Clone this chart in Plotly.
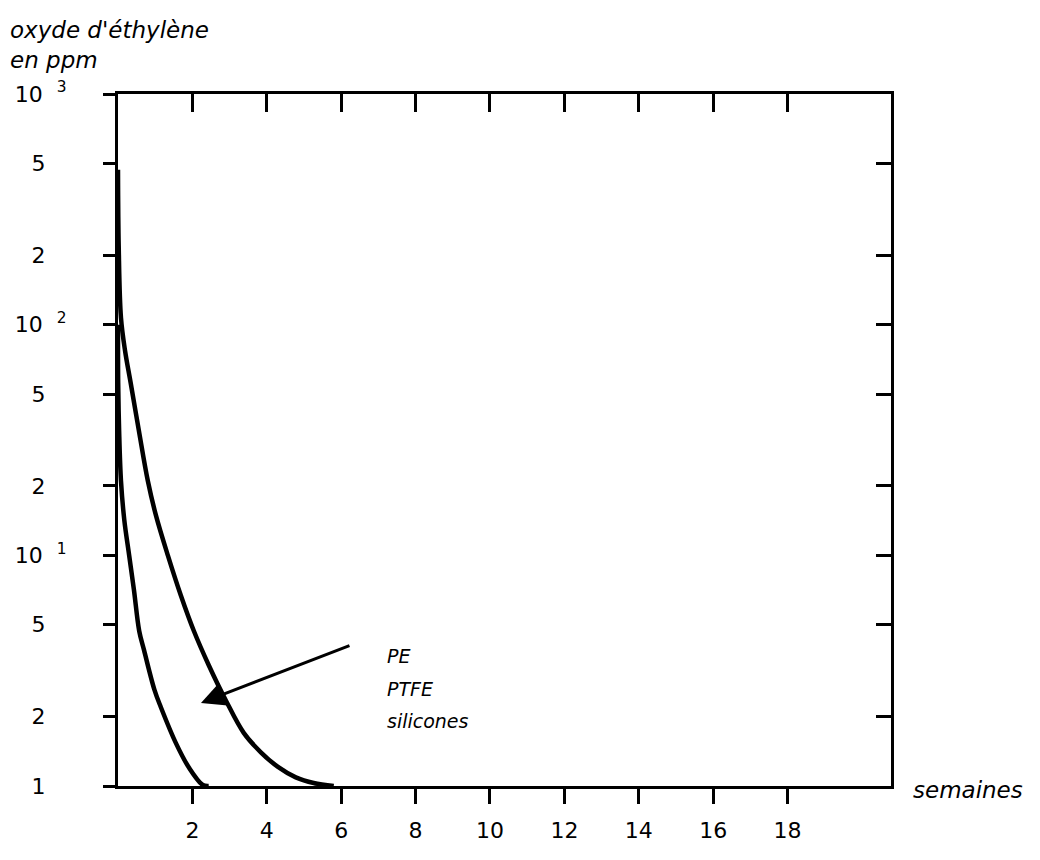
import plotly.graph_objects as go

# ---- data ----
weeks_outer = [0.0, 0.02, 0.08, 0.19, 0.34, 0.56, 0.80, 1.02, 1.34, 1.69, 2.04, 2.44,
               2.90, 3.38, 3.84, 4.30, 4.78, 5.26, 5.80]
ppm_outer = [469, 215, 107, 77, 56, 34.8, 21.1, 14.9, 10, 6.7, 4.7, 3.34,
             2.35, 1.70, 1.40, 1.21, 1.09, 1.03, 1.0]

weeks_inner = [0.0, 0.005, 0.03, 0.08, 0.17, 0.30, 0.43, 0.57, 0.70, 0.98, 1.15, 1.56, 1.91, 2.28, 2.44]
ppm_inner = [100, 56, 34.8, 21, 14.2, 10, 7.05, 4.7, 3.88, 2.61, 2.2, 1.53, 1.2, 1.01, 1.0]

x_ticks = [2, 4, 6, 8, 10, 12, 14, 16, 18]
x_ticktext = ["2", "4", "6", "8", "10", "12", "14", "16", "18"]
y_ticks = [1, 2, 5, 10, 20, 50, 100, 200, 500, 1000]
PAD = "\u00a0\u00a0\u00a0"
y_ticktext = ["1" + PAD, "2" + PAD, "5" + PAD, "10\u00a0\u00a0<sup>1</sup>",
              "2" + PAD, "5" + PAD, "10\u00a0\u00a0<sup>2</sup>",
              "2" + PAD, "5" + PAD, "10\u00a0\u00a0<sup>3</sup>"]
y_ticks_right = [2, 5, 10, 20, 50, 100, 200, 500]

label_lines = ["PE", "PTFE", "silicones"]

FONT = "DejaVu Sans"
font_it = dict(family=FONT, size=23, color="black", style="italic", weight=200)
font_tick = dict(family=FONT, size=22, color="black")

L, R, T, B = 110, 157, 86, 82
PW, PH = 1040 - L - R, 860 - T - B

fig = go.Figure()
for xs, ys in ((weeks_outer, ppm_outer), (weeks_inner, ppm_inner)):
    fig.add_trace(go.Scatter(x=xs, y=ys, mode="lines",
                             line=dict(color="black", width=4.5, shape="spline", smoothing=1.0),
                             showlegend=False, hoverinfo="skip"))
# invisible trace to anchor the mirror axes
fig.add_trace(go.Scatter(x=[1], y=[1], xaxis="x2", yaxis="y2", mode="markers",
                         marker=dict(opacity=0), showlegend=False, hoverinfo="skip"))

xr = [0, 20.78]
yr = [0, 3]

common = dict(showgrid=False, zeroline=False, showline=True, linecolor="black",
              linewidth=3, tickwidth=3, tickcolor="black", automargin=False)

fig.update_layout(
    width=1040, height=860,
    margin=dict(l=L, r=R, t=T, b=B, autoexpand=False),
    paper_bgcolor="white", plot_bgcolor="white",
    xaxis=dict(range=xr, ticks="outside", ticklen=15,
               tickvals=x_ticks, ticktext=x_ticktext, ticklabelstandoff=8,
               tickfont=font_tick, **common),
    xaxis2=dict(range=xr, overlaying="x", side="top", ticks="inside", ticklen=18,
                tickvals=x_ticks, showticklabels=False, **common),
    yaxis=dict(type="log", range=yr, ticks="outside", ticklen=12,
               tickvals=y_ticks, ticktext=y_ticktext,
               ticklabelstandoff=32, tickfont=font_tick, **common),
    yaxis2=dict(type="log", range=yr, overlaying="y", side="right",
                ticks="inside", ticklen=15,
                tickvals=y_ticks_right, showticklabels=False, **common),
)

# axis titles as free text
fig.add_annotation(text="oxyde d'éthylène", xref="paper", yref="paper",
                   x=-L / PW, y=1 + (T - 22) / PH, xanchor="left", yanchor="middle",
                   showarrow=False, font=font_it)
fig.add_annotation(text="en ppm", xref="paper", yref="paper",
                   x=-L / PW, y=1 + (T - 52) / PH, xanchor="left", yanchor="middle",
                   showarrow=False, font=font_it)
fig.add_annotation(text="semaines", xref="paper", yref="paper",
                   x=1 + 20 / PW, y=-4 / PH, xanchor="left", yanchor="middle",
                   showarrow=False, font=font_it)

# arrow pointing at the PE/PTFE/silicones curve
fig.add_annotation(x=2.23, y=0.36, xref="x", yref="y", text="", showarrow=True,
                   ax=150, ay=-58, arrowhead=2, arrowsize=1.6, arrowwidth=3,
                   arrowcolor="black", standoff=0)
for i, t in enumerate(label_lines):
    fig.add_annotation(text=t, xref="x", yref="y", x=7.18, y=0.563 - i * 0.141,
                       xanchor="left", yanchor="middle", showarrow=False,
                       font=dict(family=FONT, size=19, color="black", style="italic", weight=200))

fig.write_html("out.html")
